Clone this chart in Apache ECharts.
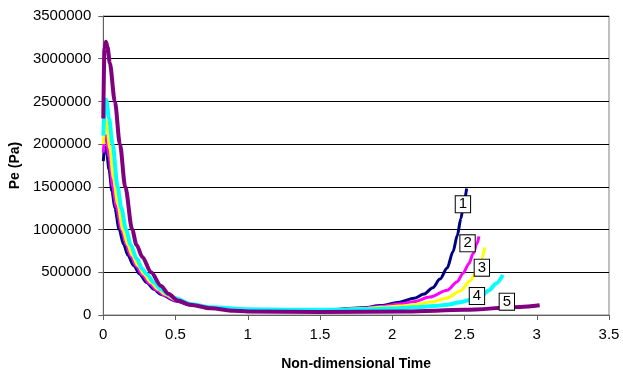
<!DOCTYPE html>
<html>
<head>
<meta charset="utf-8">
<script src="https://cdn.jsdelivr.net/npm/echarts@6/dist/echarts.min.js"></script>
<style>
html,body{margin:0;padding:0;background:#fff;}
#chart{width:623px;height:377px;}
</style>
</head>
<body>
<div id="chart"></div>
<script>
// Non-dimensional time (x) and Pe in Pa (y) per curve
const s1x = [0, 0.01, 0.02, 0.04, 0.06, 0.08, 0.11, 0.14, 0.17, 0.21, 0.25, 0.3, 0.35, 0.4, 0.5, 0.6, 0.75, 0.9, 1.0, 1.3, 1.6, 1.8, 1.92, 2.05, 2.15, 2.22, 2.28, 2.33, 2.38, 2.42, 2.45, 2.475, 2.495, 2.515];
const s1y = [1800000, 1970000, 1950000, 1700000, 1450000, 1250000, 1000000, 830000, 700000, 580000, 480000, 380000, 300000, 240000, 165000, 120000, 85000, 68000, 62000, 58000, 65000, 85000, 110000, 150000, 195000, 245000, 320000, 420000, 550000, 740000, 930000, 1130000, 1320000, 1480000];

const s2x = [0, 0.01, 0.02, 0.04, 0.065, 0.09, 0.125, 0.16, 0.19, 0.23, 0.27, 0.32, 0.37, 0.42, 0.5, 0.6, 0.75, 1.0, 1.3, 1.6, 1.8, 1.92, 2.05, 2.15, 2.26, 2.38, 2.45, 2.49, 2.53, 2.56, 2.585, 2.60];
const s2y = [1900000, 2080000, 2100000, 1850000, 1500000, 1270000, 1000000, 820000, 690000, 570000, 470000, 370000, 290000, 235000, 170000, 120000, 85000, 62000, 58000, 63000, 80000, 100000, 128000, 156000, 210000, 290000, 390000, 490000, 600000, 720000, 830000, 920000];

const s3x = [0, 0.01, 0.02, 0.045, 0.07, 0.1, 0.135, 0.17, 0.2, 0.24, 0.28, 0.33, 0.38, 0.43, 0.5, 0.6, 0.75, 1.0, 1.3, 1.6, 1.8, 1.92, 2.05, 2.15, 2.28, 2.38, 2.47, 2.54, 2.58, 2.61, 2.64];
const s3y = [2000000, 2250000, 2280000, 1950000, 1600000, 1300000, 1000000, 820000, 700000, 580000, 480000, 380000, 300000, 240000, 180000, 125000, 87000, 63000, 60000, 62000, 75000, 90000, 105000, 120000, 156000, 200000, 280000, 400000, 500000, 620000, 790000];

const s4x = [0, 0.01, 0.02, 0.04, 0.064, 0.099, 0.125, 0.157, 0.19, 0.23, 0.27, 0.3, 0.35, 0.4, 0.45, 0.5, 0.6, 0.75, 1.0, 1.3, 1.6, 1.8, 2.0, 2.15, 2.29, 2.38, 2.47, 2.56, 2.62, 2.67, 2.72, 2.765];
const s4y = [2100000, 2450000, 2520000, 2300000, 2000000, 1500000, 1250000, 1000000, 820000, 660000, 540000, 480000, 380000, 300000, 240000, 195000, 130000, 90000, 66000, 62000, 62000, 66000, 76000, 90000, 105000, 120000, 150000, 185000, 230000, 290000, 370000, 470000];

const s5x = [0, 0.008, 0.018, 0.03, 0.045, 0.08, 0.115, 0.152, 0.2, 0.23, 0.27, 0.33, 0.4, 0.45, 0.515, 0.6, 0.745, 0.9, 1.0, 1.5, 2.1, 2.5, 2.885, 3.02];
const s5y = [2300000, 3120000, 3200000, 3130000, 2950000, 2500000, 2000000, 1500000, 1000000, 820000, 680000, 500000, 340000, 250000, 170000, 120000, 78000, 50000, 42000, 36000, 42000, 60000, 95000, 115000];

const xTicks = [0, 0.5, 1, 1.5, 2, 2.5, 3, 3.5];
const yTicks = [0, 500000, 1000000, 1500000, 2000000, 2500000, 3000000, 3500000];

const curveNames = ['1', '2', '3', '4', '5'];
const curveColors = ['#000080', '#FF00FF', '#FFFF00', '#00FFFF', '#800080'];
const curveWidths = [3, 3, 3, 4, 4];
// label anchor points (data coordinates)
const labelX = [2.489, 2.521, 2.620, 2.586, 2.793];
const labelY = [1296000, 839000, 554000, 222000, 156000];

const xs = [s1x, s2x, s3x, s4x, s5x];
const ys = [s1y, s2y, s3y, s4y, s5y];

const series = curveNames.map((n, i) => ({
  name: n,
  type: 'line',
  data: xs[i].map((x, j) => [x, ys[i][j]]),
  showSymbol: false,
  smooth: 0.3,
  smoothMonotone: 'x',
  lineStyle: { color: curveColors[i], width: curveWidths[i] },
  itemStyle: { color: curveColors[i] },
  z: 2,
  markPoint: {
    z: 20,
    symbol: 'rect',
    symbolSize: 0,
    silent: true,
    data: [{ coord: [labelX[i], labelY[i]], value: n }],
    label: {
      show: true,
      position: 'inside',
      formatter: n,
      color: '#000',
      fontFamily: 'Liberation Sans, Arial, sans-serif',
      fontSize: 15,
      backgroundColor: '#fff',
      borderColor: '#000',
      borderWidth: 1,
      padding: [1, 3, 0, 3]
    }
  }
}));

const chart = echarts.init(document.getElementById('chart'), null, { renderer: 'canvas' });
chart.setOption({
  animation: false,
  backgroundColor: '#fff',
  grid: { left: 102, right: 14, top: 16, bottom: 62, show: true, borderColor: '#808080', borderWidth: 1, backgroundColor: 'transparent' },
  xAxis: {
    type: 'value',
    min: xTicks[0], max: xTicks[xTicks.length - 1], interval: 0.5,
    name: 'Non-dimensional Time',
    nameLocation: 'middle',
    nameGap: 42,
    nameTextStyle: { fontFamily: 'Liberation Sans, Arial, sans-serif', fontSize: 14, fontWeight: 'bold', color: '#000' },
    axisLine: { show: true, lineStyle: { color: '#606060', width: 1 } },
    axisTick: { show: true, inside: false, length: 5, lineStyle: { color: '#606060' } },
    axisLabel: { color: '#000', fontFamily: 'Liberation Sans, Arial, sans-serif', fontSize: 15, margin: 12, formatter: v => String(v) },
    splitLine: { show: false }
  },
  yAxis: {
    type: 'value',
    min: yTicks[0], max: yTicks[yTicks.length - 1], interval: 500000,
    name: 'Pe (Pa)',
    nameLocation: 'middle',
    nameGap: 80,
    nameRotate: 90,
    nameTextStyle: { fontFamily: 'Liberation Sans, Arial, sans-serif', fontSize: 14, fontWeight: 'bold', color: '#000' },
    axisLine: { show: true, lineStyle: { color: '#606060', width: 1 } },
    axisTick: { show: true, inside: false, length: 5, lineStyle: { color: '#606060' } },
    axisLabel: { color: '#000', fontFamily: 'Liberation Sans, Arial, sans-serif', fontSize: 15, margin: 12, formatter: v => String(v) },
    splitLine: { show: true, lineStyle: { color: '#000', width: 1 } }
  },
  series: series
});
</script>
</body>
</html>
